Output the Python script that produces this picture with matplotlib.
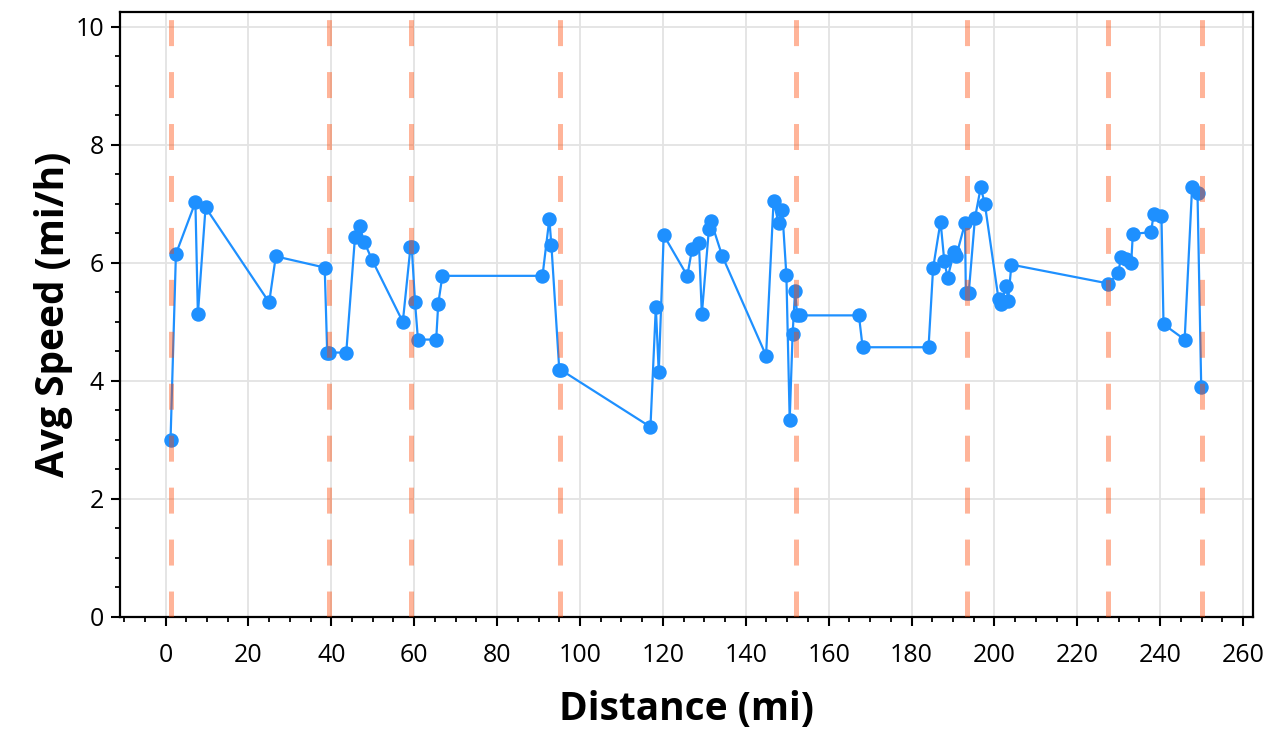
import matplotlib
matplotlib.use("Agg")
import matplotlib.pyplot as plt
from matplotlib.ticker import MultipleLocator

plt.rcParams['font.family'] = ['Open Sans', 'DejaVu Sans']
plt.rcParams['lines.scale_dashes'] = False

distance = [1.2, 2.5, 7.2, 7.8, 9.65, 25.0, 26.6, 38.4, 39.0, 39.4, 43.6, 45.7, 46.8, 47.9,
            49.9, 57.25, 59.1, 59.4, 60.2, 60.9, 65.3, 65.8, 66.8, 90.95, 92.6, 93.1, 95.0,
            95.3, 117.0, 118.3, 119.0, 120.2, 125.9, 127.05, 128.7, 129.4, 131.1, 131.6,
            134.3, 144.9, 146.7, 147.9, 148.8, 149.8, 150.6, 151.3, 151.9, 152.4, 153.2,
            167.3, 168.2, 184.1, 185.2, 187.0, 187.9, 188.7, 190.3, 190.8, 192.9, 193.1,
            193.8, 195.3, 196.7, 197.7, 201.0, 201.6, 202.9, 203.3, 204.1, 227.5, 229.9,
            230.5, 231.8, 233.0, 233.4, 237.8, 238.4, 240.3, 240.8, 245.9, 247.7, 249.0,
            249.9]
speed = [3.0, 6.15, 7.03, 5.13, 6.94, 5.33, 6.11, 5.92, 4.48, 4.48, 4.48, 6.43, 6.63, 6.36,
         6.04, 5.0, 6.27, 6.27, 5.33, 4.70, 4.70, 5.31, 5.78, 5.78, 6.74, 6.30, 4.19,
         4.19, 3.22, 5.25, 4.15, 6.47, 5.78, 6.24, 6.34, 5.13, 6.57, 6.71,
         6.12, 4.43, 7.04, 6.68, 6.89, 5.79, 3.34, 4.79, 5.53, 5.11, 5.11,
         5.11, 4.57, 4.57, 5.91, 6.70, 6.03, 5.75, 6.19, 6.12, 6.67, 5.49,
         5.49, 6.76, 7.28, 6.99, 5.38, 5.31, 5.61, 5.36, 5.97, 5.65, 5.82,
         6.10, 6.07, 6.00, 6.49, 6.52, 6.82, 6.80, 4.96, 4.70, 7.29, 7.18,
         3.89]
markers_x = [1.2, 39.4, 59.2, 95.1, 152.2, 193.3, 227.4, 250.1]

x_ticks = list(range(0, 261, 20))
y_ticks = list(range(0, 11, 2))

fig = plt.figure(figsize=(12.79, 7.33), dpi=100)
ax = fig.add_axes([0.0938, 0.1583, 0.8859, 0.8253])

ax.grid(True, which='major', color='#e3e3e3', linewidth=1.3, zorder=0)
ax.plot(distance, speed, color='#1E90FF', linewidth=1.6, marker='o', markersize=9.4,
        zorder=3)
for mx in markers_x:
    ax.axvline(mx, color='orangered', alpha=0.4, linewidth=3.6,
               linestyle=(0, (18.7, 18.7)), zorder=4)

ax.set_xlim(-11.0, 262.4)
ax.set_ylim(0, 10.25)
ax.set_xticks(x_ticks)
ax.set_yticks(y_ticks)
ax.xaxis.set_minor_locator(MultipleLocator(5))
ax.yaxis.set_minor_locator(MultipleLocator(0.5))
ax.tick_params(which='major', direction='out', length=6.5, width=1.5, labelsize=18,
               color='black')
ax.tick_params(axis='x', which='major', pad=12)
ax.tick_params(axis='y', which='major', pad=5)
ax.tick_params(which='minor', direction='out', length=3.5, width=1.3, color='black')
for s in ax.spines.values():
    s.set_linewidth(1.6)
    s.set_color('black')

ax.set_xlabel('Distance (mi)', fontsize=28, fontweight='bold', labelpad=16)
ax.set_ylabel('Avg Speed (mi/h)', fontsize=28, fontweight='bold', labelpad=2)

fig.savefig('out.png', dpi=100)
